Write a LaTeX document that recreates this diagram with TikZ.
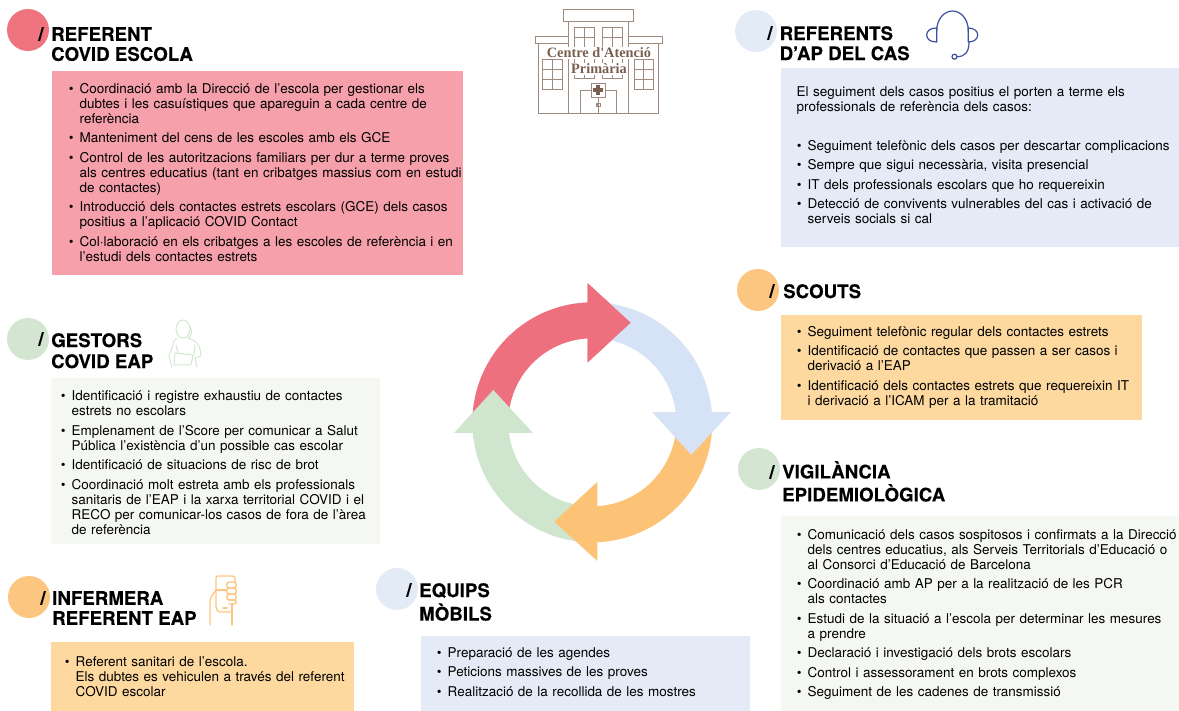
\documentclass[tikz,border=0pt]{standalone}
\usepackage{fontspec}
\setmainfont{TeX Gyre Heros}
\newfontfamily\hospfont{Liberation Serif}
\newfontfamily\headfont[BoldFeatures={FakeBold=0.25}]{TeX Gyre Heros}
\definecolor{cRed}{HTML}{EE6F7D}
\definecolor{cBlue}{HTML}{D6E2F5}
\definecolor{cOrange}{HTML}{FCC377}
\definecolor{cGreen}{HTML}{D0E5CD}
\definecolor{bRed}{HTML}{F5A0AA}
\definecolor{bBlue}{HTML}{E4EBF7}
\definecolor{bOrange}{HTML}{FDD89F}
\definecolor{bGreen}{HTML}{F5F8F2}
\definecolor{dRed}{HTML}{EF7480}
\definecolor{dBlue}{HTML}{E3EBF7}
\definecolor{dOrange}{HTML}{FCC580}
\definecolor{dGreen}{HTML}{D4E6D2}
\definecolor{brownline}{HTML}{A08A7E}
\definecolor{browntext}{HTML}{7A5F50}
\definecolor{headsetc}{HTML}{3D4F9F}
\newenvironment{blist}{\begin{list}{\textbullet}{\setlength{\leftmargin}{9pt}\setlength{\labelwidth}{5pt}\setlength{\labelsep}{6pt}\setlength{\itemsep}{4.5pt}\setlength{\parsep}{0pt}\setlength{\topsep}{0pt}\setlength{\partopsep}{0pt}\setlength{\itemindent}{0pt}}}{\end{list}}
\tikzset{
 x=1pt,y=-1pt,
 boxshape/.style={anchor=north west,inner sep=0pt,draw=none,fill=#1},
 dotshape/.style={circle,minimum size=42pt,inner sep=0pt,fill=#1},
 headtxt/.style={anchor=north west,inner sep=0pt,align=left,font=\headfont\fontsize{18.7}{#1}\selectfont\bfseries},
 slashtxt/.style={anchor=center,inner sep=0pt,font=\headfont\fontsize{19}{22}\selectfont\bfseries},
 bodytxt/.style={anchor=north west,inner sep=0pt,text width=420pt,align=left,font=\fontsize{13.48}{15}\selectfont},
 iconline/.style={line width=#1,line cap=round,line join=round},
 hosp/.style={draw=brownline,line width=.7pt},
 hosptxt/.style={inner sep=1pt,text=browntext,font=\hospfont\fontsize{14.3}{16}\selectfont\bfseries},
}
\newcommand{\gridwin}[6]{% x0 y0 x1 y1 cols rows
 \draw[hosp] (#1,#2) rectangle (#3,#4);
 \pgfmathsetmacro{\gwdx}{(#3-#1)/#5}\pgfmathsetmacro{\gwdy}{(#4-#2)/#6}
 \foreach \gwi in {1,...,#5}{\draw[hosp] ({#1+\gwi*\gwdx},#2) -- ({#1+\gwi*\gwdx},#4);}
 \foreach \gwj in {1,...,#6}{\draw[hosp] (#1,{#2+\gwj*\gwdy}) -- (#3,{#2+\gwj*\gwdy});}
}
\begin{document}
\begin{tikzpicture}
\useasboundingbox (0,0) rectangle (1179,711);
% boxes
\node[boxshape=bRed,minimum width=411pt,minimum height=204pt] (bxa) at (52,71) {};
\node[boxshape=bBlue,minimum width=398pt,minimum height=179pt] (bxb) at (781,68) {};
\node[boxshape=bOrange,minimum width=361pt,minimum height=105pt] (bxc) at (781,315) {};
\node[boxshape=bGreen,minimum width=398pt,minimum height=195pt] (bxd) at (781,516) {};
\node[boxshape=bGreen,minimum width=329pt,minimum height=166pt] (bxe) at (51,378) {};
\node[boxshape=bOrange,minimum width=303pt,minimum height=69pt] (bxf) at (51,642) {};
\node[boxshape=bBlue,minimum width=329pt,minimum height=75pt] (bxg) at (421,636) {};
% discs
\node[dotshape=dRed] (da) at (28,30) {};
\node[dotshape=dBlue] (db) at (756,31) {};
\node[dotshape=dOrange] (dc) at (758,290) {};
\node[dotshape=dGreen] (dd) at (759,469) {};
\node[dotshape=dGreen] (de) at (28,339) {};
\node[dotshape=dOrange] (df) at (29,597) {};
\node[dotshape=dBlue] (dg) at (397,589) {};
% slashes
\node[slashtxt] (sa) at (41,34) {/};
\node[slashtxt] (sb) at (770,33) {/};
\node[slashtxt] (sc) at (772,291) {/};
\node[slashtxt] (sd) at (772,472) {/};
\node[slashtxt] (se) at (41,339) {/};
\node[slashtxt] (sf) at (43,598) {/};
\node[slashtxt] (sg) at (409,590) {/};
% headings
\node[headtxt=20] (ha) at (51,27) {REFERENT\\COVID ESCOLA};
\node[headtxt=20] (hb) at (779.5,26) {REFERENTS\\D’AP DEL CAS};
\node[headtxt=20] (hc) at (783,284) {SCOUTS};
\node[headtxt=23] (hd) at (782,461) {VIGILÀNCIA\\EPIDEMIOLÒGICA};
\node[headtxt=21] (he) at (51,333) {GESTORS\\COVID EAP};
\node[headtxt=20] (hf) at (52,591) {INFERMERA\\REFERENT EAP};
\node[headtxt=23.5] (hg) at (419,583) {EQUIPS\\MÒBILS};
% body text
\node[bodytxt] (ta) at (70.5,78) {\begin{blist}
\item Coordinació amb la Direcció de l’escola per gestionar els\\dubtes i les casuístiques que apareguin a cada centre de\\referència
\item Manteniment del cens de les escoles amb els GCE
\item Control de les autoritzacions familiars per dur a terme proves\\als centres educatius (tant en cribatges massius com en estudi\\de contactes)
\item Introducció dels contactes estrets escolars (GCE) dels casos\\positius a l’aplicació COVID Contact
\item Col·laboració en els cribatges a les escoles de referència i en\\l’estudi dels contactes estrets
\end{blist}};
\node[bodytxt] (tb0) at (796.5,86) {El seguiment dels casos positius el porten a terme els\\professionals de referència dels casos:};
\node[bodytxt] (tb) at (798.5,135) {\begin{blist}
\item Seguiment telefònic dels casos per descartar complicacions
\item Sempre que sigui necessària, visita presencial
\item IT dels professionals escolars que ho requereixin
\item Detecció de convivents vulnerables del cas i activació de\\serveis socials si cal
\end{blist}};
\node[bodytxt] (tc) at (798.5,321) {\begin{blist}
\item Seguiment telefònic regular dels contactes estrets
\item Identificació de contactes que passen a ser casos i\\derivació a l’EAP
\item Identificació dels contactes estrets que requereixin IT\\i derivació a l’ICAM per a la tramitació
\end{blist}};
\node[bodytxt] (td) at (798.5,524) {\begin{blist}
\item Comunicació dels casos sospitosos i confirmats a la Direcció\\dels centres educatius, als Serveis Territorials d’Educació o\\al Consorci d’Educació de Barcelona
\item Coordinació amb AP per a la realització de les PCR\\als contactes
\item Estudi de la situació a l’escola per determinar les mesures\\a prendre
\item Declaració i investigació dels brots escolars
\item Control i assessorament en brots complexos
\item Seguiment de les cadenes de transmissió
\end{blist}};
\node[bodytxt] (te) at (62.5,385.5) {\begin{blist}
\item Identificació i registre exhaustiu de contactes\\estrets no escolars
\item Emplenament de l’Score per comunicar a Salut\\Pública l’existència d’un possible cas escolar
\item Identificació de situacions de risc de brot
\item Coordinació molt estreta amb els professionals\\sanitaris de l’EAP i la xarxa territorial COVID i el\\RECO per comunicar-los casos de fora de l’àrea\\de referència
\end{blist}};
\node[bodytxt] (tf) at (66.5,651) {\begin{blist}
\item Referent sanitari de l’escola.\\Els dubtes es vehiculen a través del referent\\COVID escolar
\end{blist}};
\node[bodytxt] (tg) at (438.5,642) {\begin{blist}
\item Preparació de les agendes
\item Peticions massives de les proves
\item Realització de la recollida de les mostres
\end{blist}};
% ring of arrows
\def\cx{592.3}\def\cy{422.3}
\def\ringarrow#1#2#3#4#5#6#7#8{%
 \fill[#1] plot[domain=#2:#3,samples=40,smooth] ({\cx+120*cos(\x)},{\cy+120*sin(\x)})
   -- #6 -- #7 -- #8
   -- plot[domain=#4:#5,samples=40,smooth] ({\cx+84*cos(\x)},{\cy+84*sin(\x)}) -- cycle;}
\ringarrow{cRed}{180}{267.8}{266.8}{180}{(587.7,283.3)}{(630.7,322.7)}{(587.7,362.3)}
\ringarrow{cGreen}{92}{174.9}{172.7}{95}{(454,433)}{(493.3,390)}{(533,433)}
\ringarrow{cOrange}{3}{87.6}{86.6}{3}{(597.3,561)}{(554.3,521.7)}{(597.3,482)}
\ringarrow{cBlue}{-88}{-4.9}{-7}{-85}{(731,412)}{(691.3,454.7)}{(652,412)}
\fill[cRed] (587.7,283.3) -- (630.7,322.7) -- (587.7,362.3) -- cycle;
% hospital icon
\draw[hosp] (568,21) rectangle (628,113);
\draw[hosp] (563,9) rectangle (633,21);
\draw[hosp] (538,43) -- (538,113) -- (658,113) -- (658,43);
\draw[hosp] (535,36) rectangle (568,43);
\draw[hosp] (628,36) rectangle (662,43);
\gridwin{542}{59}{562}{89}{2}{3}
\gridwin{634}{59}{653}{89}{2}{3}
\gridwin{574}{27}{594}{47}{2}{2}
\gridwin{602}{27}{622}{47}{2}{2}
\gridwin{574}{58}{594}{78}{2}{2}
\gridwin{602}{58}{622}{78}{2}{2}
\draw[hosp] (580,90) rectangle (616,113);
\draw[hosp] (598,97) -- (598,113);
\draw[hosp,fill=white] (591,83) rectangle (605,97);
\fill[browntext] (596,85) rectangle (600,95);
\fill[browntext] (593,88) rectangle (603,92);
\draw[hosp] (596,103) rectangle (597.4,106);
\draw[hosp] (598.8,103) rectangle (600.2,106);
\node[hosptxt,fill=white] (hospa) at (599,53) {Centre d'Atenció};
\node[hosptxt,fill=white] (hospb) at (599,69) {Primària};
% headset icon
\draw[headsetc,iconline=1.2pt] (936.7,31) .. controls (936.7,18) and (945,11) .. (952.5,11) .. controls (960,11) and (968.3,18) .. (968.3,31);
\draw[headsetc,iconline=1.2pt] (936.7,28) -- (936.7,42) .. controls (930,42) and (926.7,39) .. (926.7,35) .. controls (926.7,31) and (930,28) .. (936.7,28);
\draw[headsetc,iconline=1.2pt] (968.3,28) -- (968.3,42) .. controls (974,42) and (977.7,39) .. (977.7,35) .. controls (977.7,31) and (974,28) .. (968.3,28);
\draw[headsetc,iconline=1.2pt] (969,42) .. controls (969,52) and (965,56.7) .. (957,56.7);
\draw[headsetc,iconline=1.2pt] (954.5,56.7) circle (2.5);
% nurse icon
\draw[dGreen,iconline=1pt] (183,329) ellipse (7 and 9);
\draw[dGreen,iconline=1pt] (189,325) .. controls (193,331) and (192,336) .. (188,338);
\draw[dGreen,iconline=1pt] (177,338) .. controls (172,342) and (173,343) .. (173,345) -- (169,356) -- (172,367);
\draw[dGreen,iconline=1pt] (188,338) .. controls (196,341) and (200,343) .. (201,356) -- (195,358) -- (197,367);
\draw[dGreen,iconline=1pt] (175,353) -- (193,355) -- (191,365) -- (174,365) -- cycle;
\draw[dGreen,iconline=1pt] (176,345) -- (178,353);
\draw[dGreen,iconline=1pt] (195,345) -- (194,355);
% phone-in-hand icon
\draw[dOrange,iconline=1.3pt] (216,590) -- (216,578) .. controls (216,576.5) and (217,576) .. (218,576) -- (232,576) .. controls (234,576) and (235,577) .. (235,578) -- (235,583);
\draw[dOrange,iconline=1.3pt] (229,582) -- (234,582) .. controls (237,582) and (237,588) .. (234,588) -- (229,588) .. controls (226,588) and (226,582) .. (229,582);
\draw[dOrange,iconline=1.3pt] (229,588) -- (234,588) .. controls (237,588) and (237,594) .. (234,594) -- (229,594) .. controls (226,594) and (226,588) .. (229,588);
\draw[dOrange,iconline=1.3pt] (229,594) -- (234,594) .. controls (237,594) and (237,600) .. (234,600) -- (229,600) .. controls (226,600) and (226,594) .. (229,594);
\draw[dOrange,iconline=1.3pt] (229,600) -- (234,600) .. controls (237,600) and (237,604) .. (234,604) -- (229,604);
\draw[dOrange,iconline=1.3pt] (216,590) -- (226,590);
\draw[dOrange,iconline=1.3pt] (216,590) .. controls (213,594) and (210,597) .. (210,602) -- (210,625);
\draw[dOrange,iconline=1.3pt] (216,590) -- (216,607) .. controls (216,610) and (218,612) .. (220,612) -- (232,612);
\draw[dOrange,iconline=1.3pt] (232,604) -- (232,625);
\draw[dOrange,iconline=1.3pt] (223,608) -- (227,608);
\end{tikzpicture}
\end{document}
